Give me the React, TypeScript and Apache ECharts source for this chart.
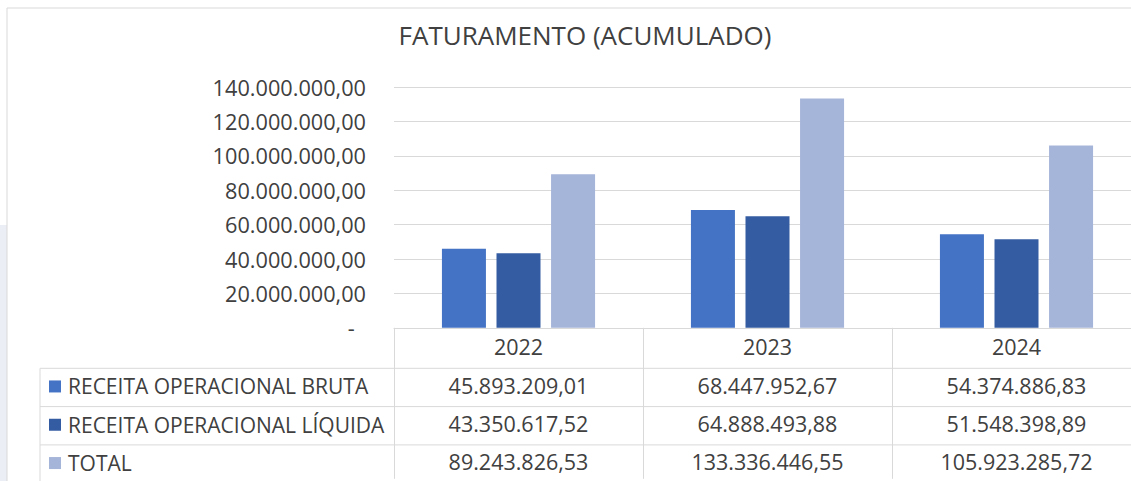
import React, { useEffect, useRef } from "react";
import * as echarts from "echarts";

const title = "FATURAMENTO (ACUMULADO)";
const categories = ["2022", "2023", "2024"];
const seriesNames = ["RECEITA OPERACIONAL BRUTA", "RECEITA OPERACIONAL LÍQUIDA", "TOTAL"];
const bruta = [45893209.01, 68447952.67, 54374886.83];
const liquida = [43350617.52, 64888493.88, 51548398.89];
const total = [89243826.53, 133336446.55, 105923285.72];
const seriesColors = ["#4472C4", "#345CA2", "#A5B5D9"];
const yMin = 0;
const yMax = 140000000;
const yInterval = 20000000;

const FONT = "'Open Sans', 'Noto Sans', sans-serif";
const TEXT = "#404040";
const LINE = "#D9D9D9";

function fmt(v: number): string {
  const neg = v < 0;
  const a = Math.abs(v);
  const cents = Math.round(a * 100);
  const intPart = Math.floor(cents / 100).toString();
  const dec = (cents % 100).toString().padStart(2, "0");
  const withDots = intPart.replace(/\B(?=(\d{3})+(?!\d))/g, ".");
  return (neg ? "-" : "") + withDots + "," + dec;
}

export default function App() {
  const ref = useRef<HTMLDivElement>(null);
  useEffect(() => {
    if (!ref.current) return;
    const chart = echarts.init(ref.current, undefined, { renderer: "svg" });
    const allSeries = [bruta, liquida, total];
    const gridLeft = 394;
    const gridTop = 87;
    const gridBottomY = 330;
    const rowH = 38.3;
    const tableLeft = 40;
    const tableRight = 1145;
    const rowLines = [1, 2, 3].map((i) => gridBottomY + rowH * i);
    const graphics: any[] = [];
    graphics.push({
      type: "rect",
      shape: { x: 0, y: 225, width: 7, height: 260 },
      style: { fill: "#ECEEF5" },
      silent: true,
    });
    graphics.push({
      type: "polyline",
      shape: { points: [[7, 481], [7, 8], [1160, 8]] },
      style: { stroke: "#D9D9D9", fill: "none", lineWidth: 1 },
      silent: true,
    });
    rowLines.forEach((y) => {
      graphics.push({
        type: "line",
        shape: { x1: tableLeft, y1: y, x2: tableRight, y2: y },
        style: { stroke: LINE, lineWidth: 1 },
        silent: true,
      });
    });
    graphics.push({
      type: "line",
      shape: { x1: tableLeft, y1: rowLines[0], x2: tableLeft, y2: 481 },
      style: { stroke: LINE, lineWidth: 1 },
      silent: true,
    });
    seriesNames.forEach((name, i) => {
      const cy = rowLines[0] + rowH * i + rowH / 2 - 1;
      graphics.push({
        type: "rect",
        shape: { x: 49, y: cy - 6, width: 12, height: 12 },
        style: { fill: seriesColors[i] },
        silent: true,
      });
      graphics.push({
        type: "text",
        x: 68,
        y: cy,
        style: {
          text: name,
          fill: TEXT,
          font: `21px ${FONT}`,
          textAlign: "left",
          textVerticalAlign: "middle",
        },
        silent: true,
      });
    });

    chart.setOption({
      animation: false,
      backgroundColor: "#ffffff",
      title: {
        text: title,
        left: 580,
        top: 17,
        textAlign: "center",
        textStyle: { color: TEXT, fontFamily: FONT, fontSize: 26, fontWeight: "normal" },
      },
      grid: {
        left: gridLeft,
        top: gridTop,
        width: 747,
        height: gridBottomY - gridTop,
        containLabel: false,
      },
      xAxis: {
        type: "category",
        data: categories,
        axisLine: { show: true, lineStyle: { color: LINE, width: 1 } },
        axisTick: { show: true, length: 151, lineStyle: { color: LINE, width: 1 } },
        axisLabel: {
          margin: 0,
          color: TEXT,
          fontFamily: FONT,
          fontSize: 21.5,
          lineHeight: rowH,
          formatter: (value: string, idx: number) =>
            [value, ...allSeries.map((s) => fmt(s[idx]))].join("\n"),
        },
      },
      yAxis: {
        type: "value",
        min: yMin,
        max: yMax,
        interval: yInterval,
        axisLine: { show: false },
        axisTick: { show: false },
        splitLine: { show: true, lineStyle: { color: LINE, width: 1 } },
        axisLabel: {
          margin: 28,
          color: TEXT,
          fontFamily: FONT,
          fontSize: 21.7,
          formatter: (v: number) => (v === 0 ? "-\u00a0\u00a0" : fmt(v)),
        },
      },
      series: allSeries.map((data, i) => ({
        name: seriesNames[i],
        type: "bar",
        data,
        barGap: "24%",
        barCategoryGap: "38.5%",
        itemStyle: { color: seriesColors[i] },
      })),
      graphic: graphics,
    });
    return () => chart.dispose();
  }, []);
  return (
    <div
      style={{
        position: "absolute",
        left: 0,
        top: 0,
        width: 1131,
        height: 481,
        overflow: "hidden",
        background: "#ffffff",
      }}
    >
      <div ref={ref} style={{ width: 1160, height: 481 }} />
    </div>
  );
}
